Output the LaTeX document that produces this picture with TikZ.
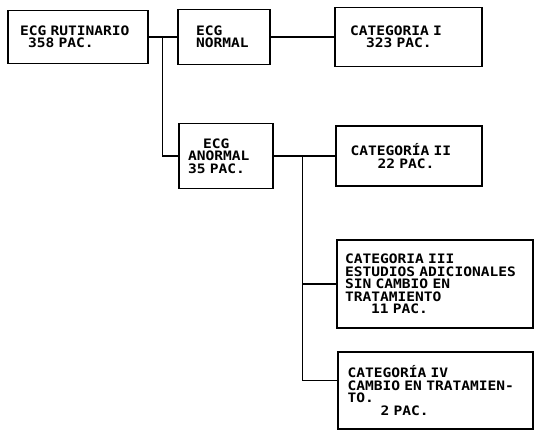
\documentclass[tikz,border=0pt]{standalone}
\usepackage{fontspec}
\newfontfamily\ecgfont{DejaVu Sans Mono}[FakeStretch=1.12]
\newcommand\ecgtext{\ecgfont\bfseries\fontsize{13}{12.5}\selectfont\hyphenpenalty=10000\relax}
\usepackage{tikz}

\tikzset{
  ecgbox/.style={
    draw=black,
    line width=1.4pt,
    inner sep=0pt,
    align=left,
    font=\ecgtext
  },
  link/.style={line width=1.4pt}
}

\begin{document}
\begin{tikzpicture}[x=1pt, y=-1pt]
\useasboundingbox (0,0) rectangle (535,430);

% first row
\node[ecgbox, minimum width=140pt, minimum height=53pt, text width=116pt] (rutina) at (78,37)
  {ECG RUTINARIO\\\hspace*{8pt}358 PAC.};
\node[ecgbox, minimum width=92pt, minimum height=55pt, text width=56pt] (normal) at (224,37)
  {ECG\\NORMAL};
\node[ecgbox, minimum width=147pt, minimum height=59pt, text width=117pt] (cati) at (408.5,37)
  {CATEGORIA I\\\hspace*{16pt}323 PAC.};

% second row
\node[ecgbox, minimum width=94pt, minimum height=65pt, text width=76pt] (anormal) at (226,156)
  {\hspace*{15pt}ECG\\ANORMAL\\35 PAC.};
\node[ecgbox, minimum width=146pt, minimum height=60pt, text width=117pt] (catii) at (409,156)
  {CATEGORÍA II\\\hspace*{27pt}22 PAC.};

% lower boxes
\node[ecgbox, minimum width=196pt, minimum height=88pt, text width=180pt] (catiii) at (435,284)
  {CATEGORIA III\\ESTUDIOS ADICIONALES\\SIN CAMBIO EN\\TRATAMIENTO\\\hspace*{26pt}11 PAC.};
\node[ecgbox, minimum width=195pt, minimum height=77pt, text width=176pt] (cativ) at (435.5,390.5)
  {CATEGORÍA IV\\CAMBIO EN TRATAMIEN-\\TO.\\\hspace*{33pt}2 PAC.};

% connectors
\coordinate (split1) at ([xshift=14pt]rutina.east);
\coordinate (split2) at ([xshift=29pt]anormal.east);
\draw[link] (rutina) -- (normal);
\draw[link] (normal) -- (cati);
\draw[link] (split1) |- (anormal.west);
\draw[link] (anormal) -- (catii);
\draw[link] (split2) |- (catiii.west);
\draw[link] (split2) |- ([yshift=10pt]cativ.west);
\end{tikzpicture}
\end{document}
